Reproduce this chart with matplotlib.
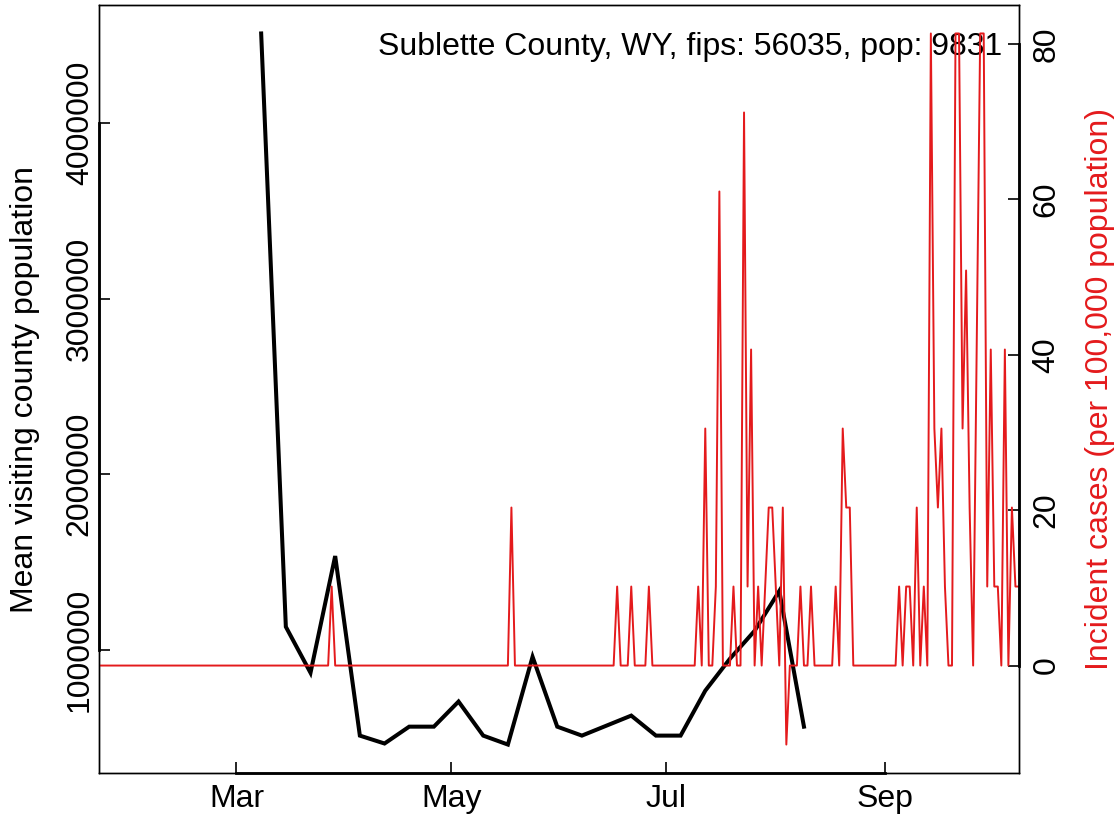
import numpy as np
import matplotlib
matplotlib.use("Agg")
import matplotlib.pyplot as plt

plt.rcParams['font.family'] = ['Liberation Sans', 'DejaVu Sans']

# weekly mean visiting county population (black line)
visit_dates = np.arange('2020-03-08', '2020-08-10', 7, dtype='datetime64[D]')
visit_pop = [4511000, 1131000, 869000, 1534000, 511000, 466000, 562000, 562000,
             705000, 511000, 460000, 960000, 562000, 511000, 568000, 625000,
             511000, 511000, 767000, 949000, 1108000, 1335000, 562000]

# daily incident cases (counts), Jan 22 - Oct 9 2020
cases_jan = [0, 0, 0, 0, 0, 0, 0, 0, 0, 0]
cases_feb = [0, 0, 0, 0, 0, 0, 0, 0, 0, 0, 0, 0, 0, 0, 0, 0, 0, 0, 0, 0,
             0, 0, 0, 0, 0, 0, 0, 0, 0]
cases_mar = [0, 0, 0, 0, 0, 0, 0, 0, 0, 0, 0, 0, 0, 0, 0, 0, 0, 0, 0, 0,
             0, 0, 0, 0, 0, 0, 0, 1, 0, 0, 0]
cases_apr = [0, 0, 0, 0, 0, 0, 0, 0, 0, 0, 0, 0, 0, 0, 0, 0, 0, 0, 0, 0,
             0, 0, 0, 0, 0, 0, 0, 0, 0, 0]
cases_may = [0, 0, 0, 0, 0, 0, 0, 0, 0, 0, 0, 0, 0, 0, 0, 0, 0, 2, 0, 0,
             0, 0, 0, 0, 0, 0, 0, 0, 0, 0, 0]
cases_jun = [0, 0, 0, 0, 0, 0, 0, 0, 0, 0, 0, 0, 0, 0, 0, 0, 1, 0, 0, 0,
             1, 0, 0, 0, 0, 1, 0, 0, 0, 0]
cases_jul = [0, 0, 0, 0, 0, 0, 0, 0, 0, 1, 0, 3, 0, 0, 1, 6, 0, 0, 0, 1,
             0, 0, 7, 1, 4, 0, 1, 0, 1, 2, 2]
cases_aug = [1, 0, 2, -1, 0, 0, 0, 1, 0, 0, 1, 0, 0, 0, 0, 0, 0, 1, 0, 3,
             2, 2, 0, 0, 0, 0, 0, 0, 0, 0, 0]
cases_sep = [0, 0, 0, 0, 1, 0, 1, 1, 0, 2, 0, 1, 0, 8, 3, 2, 3, 1, 0, 0,
             8, 8, 3, 5, 2, 0, 4, 8, 8, 1]
cases_oct = [4, 1, 1, 0, 4, 0, 2, 1, 1]

county_pop = 9831
label_text = "Sublette County, WY, fips: 56035, pop: 9831"

month_ticks = np.array(['2020-03-01', '2020-05-01', '2020-07-01', '2020-09-01'],
                       dtype='datetime64[D]')
month_labels = ["Mar", "May", "Jul", "Sep"]
pop_ticks = [1000000, 2000000, 3000000, 4000000]
case_ticks = [0, 20, 40, 60, 80]

daily_cases = np.array(cases_jan + cases_feb + cases_mar + cases_apr + cases_may +
                       cases_jun + cases_jul + cases_aug + cases_sep + cases_oct)
case_dates = np.arange('2020-01-22', '2020-10-10', dtype='datetime64[D]')
incidence = daily_cases * 1e5 / county_pop

red = '#E41A1C'
fs = 23

fig = plt.figure(figsize=(11.19, 8.22), dpi=100)
ax1 = fig.add_axes([0.0885, 0.0596, 0.8221, 0.9343])
ax1.plot(visit_dates, visit_pop, color='black', lw=2.9, solid_joinstyle='miter')
ax1.set_ymargin(0.04)
ax1.set_yticks(pop_ticks)
ax1.set_yticklabels([str(t) for t in pop_ticks])
ax1.set_xticks(month_ticks)
ax1.set_xticklabels(month_labels)
ax1.tick_params(axis='x', direction='in', length=8, width=1.2, labelsize=fs, pad=8)
ax1.tick_params(axis='y', direction='in', length=8, width=1.2, labelsize=fs, pad=3,
                labelrotation=90)
for lab in ax1.get_yticklabels():
    lab.set_va('center')
ax1.text(0.9815, 0.935, label_text, transform=ax1.transAxes, ha='right',
         va='baseline', fontsize=fs)
ax1.text(-0.0804, 0.5, "Mean visiting county population", transform=ax1.transAxes,
         rotation=90, ha='center', va='center', fontsize=fs)

ax2 = ax1.twinx()
ax2.plot(case_dates, incidence, color=red, lw=1.4)
ax2.set_ymargin(0.04)
ax2.set_yticks(case_ticks)
ax2.tick_params(axis='y', direction='in', length=8, width=1.2, labelsize=fs, pad=9,
                labelrotation=90)
for lab in ax2.get_yticklabels():
    lab.set_va('center')
ax2.text(1.088, 0.5, "Incident cases (per 100,000 population)", transform=ax2.transAxes,
         rotation=90, ha='center', va='center', fontsize=fs, color=red)
ax1.set_xlim(case_dates[0], case_dates[-1])

for ax in (ax1, ax2):
    for sp in ax.spines.values():
        sp.set_linewidth(1.0)

# R style axis lines between first and last tick
ax1.plot([month_ticks[0], month_ticks[-1]], [0, 0], transform=ax1.get_xaxis_transform(),
         color='black', lw=2, clip_on=False)
ax1.plot([0, 0], [pop_ticks[0], pop_ticks[-1]], transform=ax1.get_yaxis_transform(),
         color='black', lw=2, clip_on=False)
ax2.plot([1, 1], [case_ticks[0], case_ticks[-1]], transform=ax2.get_yaxis_transform(),
         color='black', lw=2, clip_on=False)

fig.savefig("out.png", dpi=100)
